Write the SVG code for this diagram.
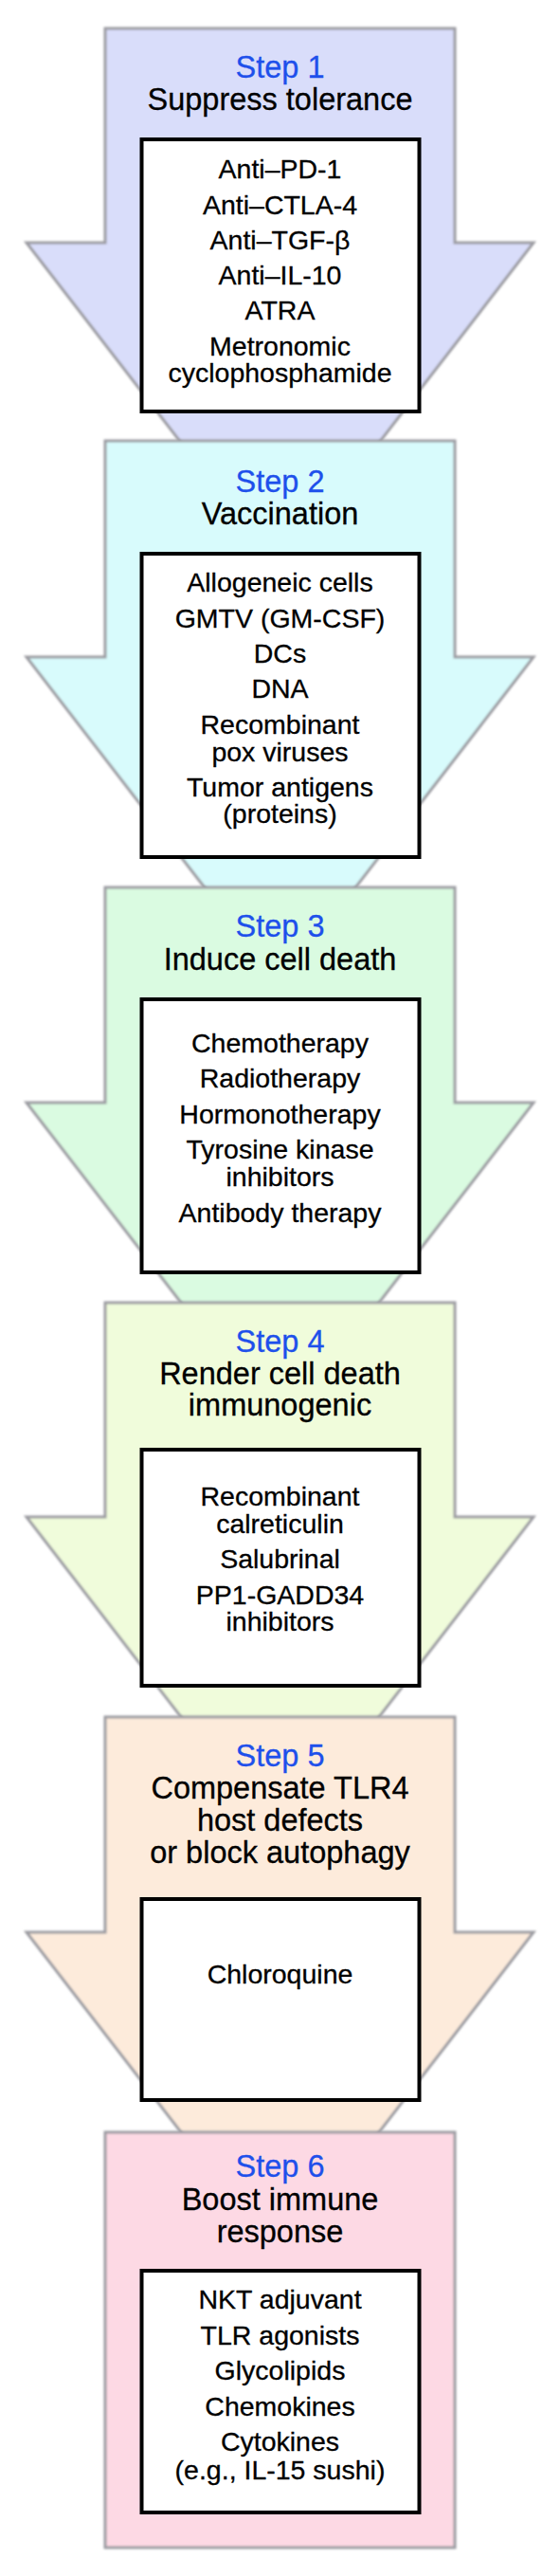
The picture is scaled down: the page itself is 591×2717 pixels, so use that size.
<svg xmlns="http://www.w3.org/2000/svg" width="591" height="2717" viewBox="0 0 591 2717">
<defs>
<filter id="soft" x="-5%" y="-5%" width="110%" height="110%">
<feGaussianBlur stdDeviation="0.8"/>
</filter>
</defs>
<style>
.arrow{stroke:#9c9ca2;stroke-width:3;stroke-linejoin:miter;filter:url(#soft)}
.box{fill:#ffffff;stroke:#000000;stroke-width:4}
.step{font-family:"Liberation Sans",Arial,sans-serif;font-size:32.5px;fill:#1e50eb;stroke:#1e50eb;stroke-width:0.3;text-anchor:middle}
.title{font-family:"Liberation Sans",Arial,sans-serif;font-size:32.5px;fill:#000000;stroke:#000000;stroke-width:0.3;text-anchor:middle}
.item{font-family:"Liberation Sans",Arial,sans-serif;font-size:28.5px;fill:#000000;stroke:#000000;stroke-width:0.3;text-anchor:middle}
</style>
<rect width="591" height="2717" fill="#ffffff"/>
<g id="connectors"></g>

<g id="step1">
<path class="arrow" fill="#d9ddfa" d="M111,30 L480,30 L480,256 L563,256 L295.5,602 L28,256 L111,256 Z"/>
<text class="step" x="295.5" y="82">Step 1</text>
<text class="title" x="295.5" y="116">Suppress tolerance</text>
<rect class="box" x="149.5" y="147" width="293" height="287"/>
<text class="item" x="295.5" y="188">Anti–PD-1</text>
<text class="item" x="295.5" y="225.5">Anti–CTLA-4</text>
<text class="item" x="295.5" y="263">Anti–TGF-β</text>
<text class="item" x="295.5" y="300">Anti–IL-10</text>
<text class="item" x="295.5" y="337">ATRA</text>
<text class="item" x="295.5" y="375">Metronomic</text>
<text class="item" x="295.5" y="402.5">cyclophosphamide</text>
</g>

<g id="step2">
<path class="arrow" fill="#d8fbfc" d="M111,465 L480,465 L480,693 L563,693 L295.5,1039 L28,693 L111,693 Z"/>
<text class="step" x="295.5" y="519">Step 2</text>
<text class="title" x="295.5" y="553">Vaccination</text>
<rect class="box" x="149.5" y="584" width="293" height="320"/>
<text class="item" x="295.5" y="624">Allogeneic cells</text>
<text class="item" x="295.5" y="662">GMTV (GM-CSF)</text>
<text class="item" x="295.5" y="699">DCs</text>
<text class="item" x="295.5" y="736">DNA</text>
<text class="item" x="295.5" y="774">Recombinant</text>
<text class="item" x="295.5" y="803">pox viruses</text>
<text class="item" x="295.5" y="840">Tumor antigens</text>
<text class="item" x="295.5" y="868">(proteins)</text>
</g>

<g id="step3">
<path class="arrow" fill="#dafbe1" d="M111,936 L480,936 L480,1163 L563,1163 L295.5,1509 L28,1163 L111,1163 Z"/>
<text class="step" x="295.5" y="988">Step 3</text>
<text class="title" x="295.5" y="1023">Induce cell death</text>
<rect class="box" x="149.5" y="1054" width="293" height="288"/>
<text class="item" x="295.5" y="1110">Chemotherapy</text>
<text class="item" x="295.5" y="1147">Radiotherapy</text>
<text class="item" x="295.5" y="1185">Hormonotherapy</text>
<text class="item" x="295.5" y="1222">Tyrosine kinase</text>
<text class="item" x="295.5" y="1251">inhibitors</text>
<text class="item" x="295.5" y="1289">Antibody therapy</text>
</g>

<g id="step4">
<path class="arrow" fill="#f0fcdb" d="M111,1374 L480,1374 L480,1600 L563,1600 L295.5,1946 L28,1600 L111,1600 Z"/>
<text class="step" x="295.5" y="1426">Step 4</text>
<text class="title" x="295.5" y="1460">Render cell death</text>
<text class="title" x="295.5" y="1493">immunogenic</text>
<rect class="box" x="149.5" y="1529" width="293" height="249"/>
<text class="item" x="295.5" y="1588">Recombinant</text>
<text class="item" x="295.5" y="1617">calreticulin</text>
<text class="item" x="295.5" y="1654">Salubrinal</text>
<text class="item" x="295.5" y="1692">PP1-GADD34</text>
<text class="item" x="295.5" y="1720">inhibitors</text>
</g>

<g id="step5">
<path class="arrow" fill="#fdebdb" d="M111,1811 L480,1811 L480,2038 L563,2038 L295.5,2384 L28,2038 L111,2038 Z"/>
<text class="step" x="295.5" y="1863">Step 5</text>
<text class="title" x="295.5" y="1897">Compensate TLR4</text>
<text class="title" x="295.5" y="1931">host defects</text>
<text class="title" x="295.5" y="1965">or block autophagy</text>
<rect class="box" x="149.5" y="2003" width="293" height="212"/>
<text class="item" x="295.5" y="2092">Chloroquine</text>
</g>

<g id="step6">
<rect class="arrow" fill="#fdd9e4" x="111" y="2249" width="369" height="438"/>
<text class="step" x="295.5" y="2296">Step 6</text>
<text class="title" x="295.5" y="2331">Boost immune</text>
<text class="title" x="295.5" y="2365">response</text>
<rect class="box" x="149.5" y="2395" width="293" height="255"/>
<text class="item" x="295.5" y="2435">NKT adjuvant</text>
<text class="item" x="295.5" y="2473">TLR agonists</text>
<text class="item" x="295.5" y="2510">Glycolipids</text>
<text class="item" x="295.5" y="2548">Chemokines</text>
<text class="item" x="295.5" y="2585">Cytokines</text>
<text class="item" x="295.5" y="2615">(e.g., IL-15 sushi)</text>
</g>
</svg>
